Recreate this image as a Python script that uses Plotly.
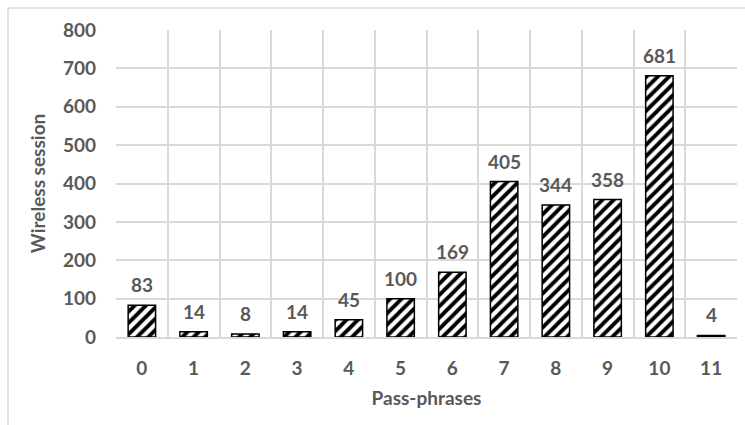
import plotly.graph_objects as go

# Number of pass-phrases per wireless session
passphrases = list(range(12))
sessions = [83, 14, 8, 14, 45, 100, 169, 405, 344, 358, 681, 4]
y_ticks = [0, 100, 200, 300, 400, 500, 600, 700, 800]

TEXT = "#595959"
GRID = "#d9d9d9"
FONT = "Lato"
SIZE = 19

fig = go.Figure()
fig.add_trace(go.Bar(
    x=passphrases,
    y=sessions,
    width=0.53,
    marker=dict(
        color="white",
        line=dict(color="black", width=1.5),
        pattern=dict(shape="/", fgcolor="black", fgopacity=1, bgcolor="white",
                     size=8, solidity=0.48),
    ),
    hoverinfo="x+y",
))

# value labels above each bar
for x, v in zip(passphrases, sessions):
    fig.add_annotation(
        x=x, y=v, text=str(v), showarrow=False,
        yanchor="bottom", yshift=7,
        font=dict(family=FONT, size=SIZE, color=TEXT, weight="bold"),
    )

# light frame around the chart
fig.add_shape(type="line", xref="paper", yref="paper",
              x0=-108 / 621, x1=1.02, y0=(337 - 8) / 307, y1=(337 - 8) / 307,
              line=dict(color=GRID, width=1.5))
fig.add_shape(type="line", xref="paper", yref="paper",
              x0=-108 / 621, x1=-108 / 621, y0=(337 - 8) / 307, y1=-0.3,
              line=dict(color=GRID, width=1.5))

fig.update_layout(
    width=745, height=425,
    margin=dict(l=116, r=8, t=30, b=88),
    paper_bgcolor="white",
    plot_bgcolor="white",
    showlegend=False,
    font=dict(family=FONT, size=SIZE, color=TEXT, weight="bold"),
    xaxis=dict(
        range=[-0.5, 11.5],
        tickmode="array",
        tickvals=passphrases,
        ticktext=[str(p) for p in passphrases],
        showgrid=False,
        zeroline=False,
        showline=True, linecolor=GRID, linewidth=1.5,
        ticks="", ticklabelstandoff=13,
        minor=dict(tick0=-0.5, dtick=1, showgrid=True, gridcolor=GRID, gridwidth=1.5, ticks=""),
        title=dict(text="Pass-phrases", standoff=14,
                   font=dict(family=FONT, size=SIZE, color=TEXT, weight="bold")),
        tickfont=dict(family=FONT, size=SIZE, color=TEXT, weight="bold"),
        fixedrange=True,
    ),
    yaxis=dict(
        range=[0, 800],
        tickmode="array",
        tickvals=y_ticks,
        showgrid=True, gridcolor=GRID, gridwidth=1.5,
        zeroline=False,
        ticks="", ticklabelstandoff=19,
        title=dict(text="Wireless session", standoff=12,
                   font=dict(family=FONT, size=SIZE, color=TEXT, weight="bold")),
        tickfont=dict(family=FONT, size=SIZE, color=TEXT, weight="bold"),
        fixedrange=True,
    ),
)

fig.write_html("out.html")
